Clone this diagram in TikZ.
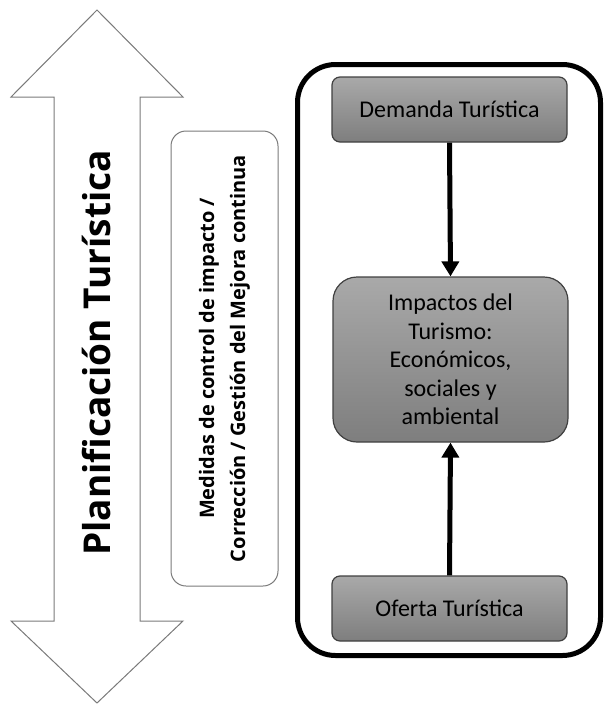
\documentclass[tikz,border=0pt]{standalone}
\usepackage{fontspec}
\setmainfont{Carlito}
\newfontfamily\sidefont{Open Sans}
\usetikzlibrary{arrows.meta,shapes.misc}
\definecolor{boxtop}{HTML}{A9A9A9}
\definecolor{boxbot}{HTML}{7E7E7E}
\definecolor{boxline}{HTML}{404040}
\definecolor{outline}{HTML}{7A7A7A}
\begin{document}
\begin{tikzpicture}[x=1pt,y=-1pt,
  graybox/.style={draw=boxline, line width=1.2pt, top color=boxtop, bottom color=boxbot,
    rounded corners=8pt, minimum width=235pt, align=center, inner sep=0pt,
    font=\fontsize{24}{28.5}\selectfont},
  frame/.style={draw=black, line width=5pt, rounded corners=38pt, minimum width=303pt, minimum height=591pt},
  conn/.style={line width=5pt, -{Triangle[length=15pt, width=17pt]}},
  sidebox/.style={draw=outline, line width=1pt, rounded corners=15pt, rotate=90,
    minimum width=455pt, minimum height=107pt, align=center, inner sep=0pt,
    font=\sidefont\bfseries\fontsize{20}{31}\selectfont},
  arrowline/.style={draw=outline, line width=1pt, fill=white}
]
\useasboundingbox (0,0) rectangle (605,704);

% vertical double arrow for planning
\draw[arrowline] (97,10) -- (183,97) -- (140,97) -- (140,621) -- (183,621) -- (97,703)
  -- (11,621) -- (54,621) -- (54,97) -- (11,97) -- cycle;
\node (plan) [rotate=90, font=\sidefont\bfseries\fontsize{37}{40}\selectfont] at (97,353) {Planificación Turística};

% control measures
\node (medidas) [sidebox] at (224.5,358.5) {Medidas de control de impacto /\\Corrección / Gestión del Mejora continua};

% system frame
\node (frame) [frame] at (449,360) {};

\node (dem) [graybox, minimum height=65pt] at (449.5,109.5) {Demanda Turística};
\node (imp) [graybox, minimum height=165pt, rounded corners=24pt] at (450.5,359.5)
  {Impactos del\\Turismo:\\Económicos,\\sociales y\\ambiental};
\node (ofe) [graybox, minimum height=65pt] at (449.5,608.5) {Oferta Turística};

\draw[conn] (dem.south) -- (imp.north);
\draw[conn] (ofe.north) -- (imp.south);
\end{tikzpicture}
\end{document}
